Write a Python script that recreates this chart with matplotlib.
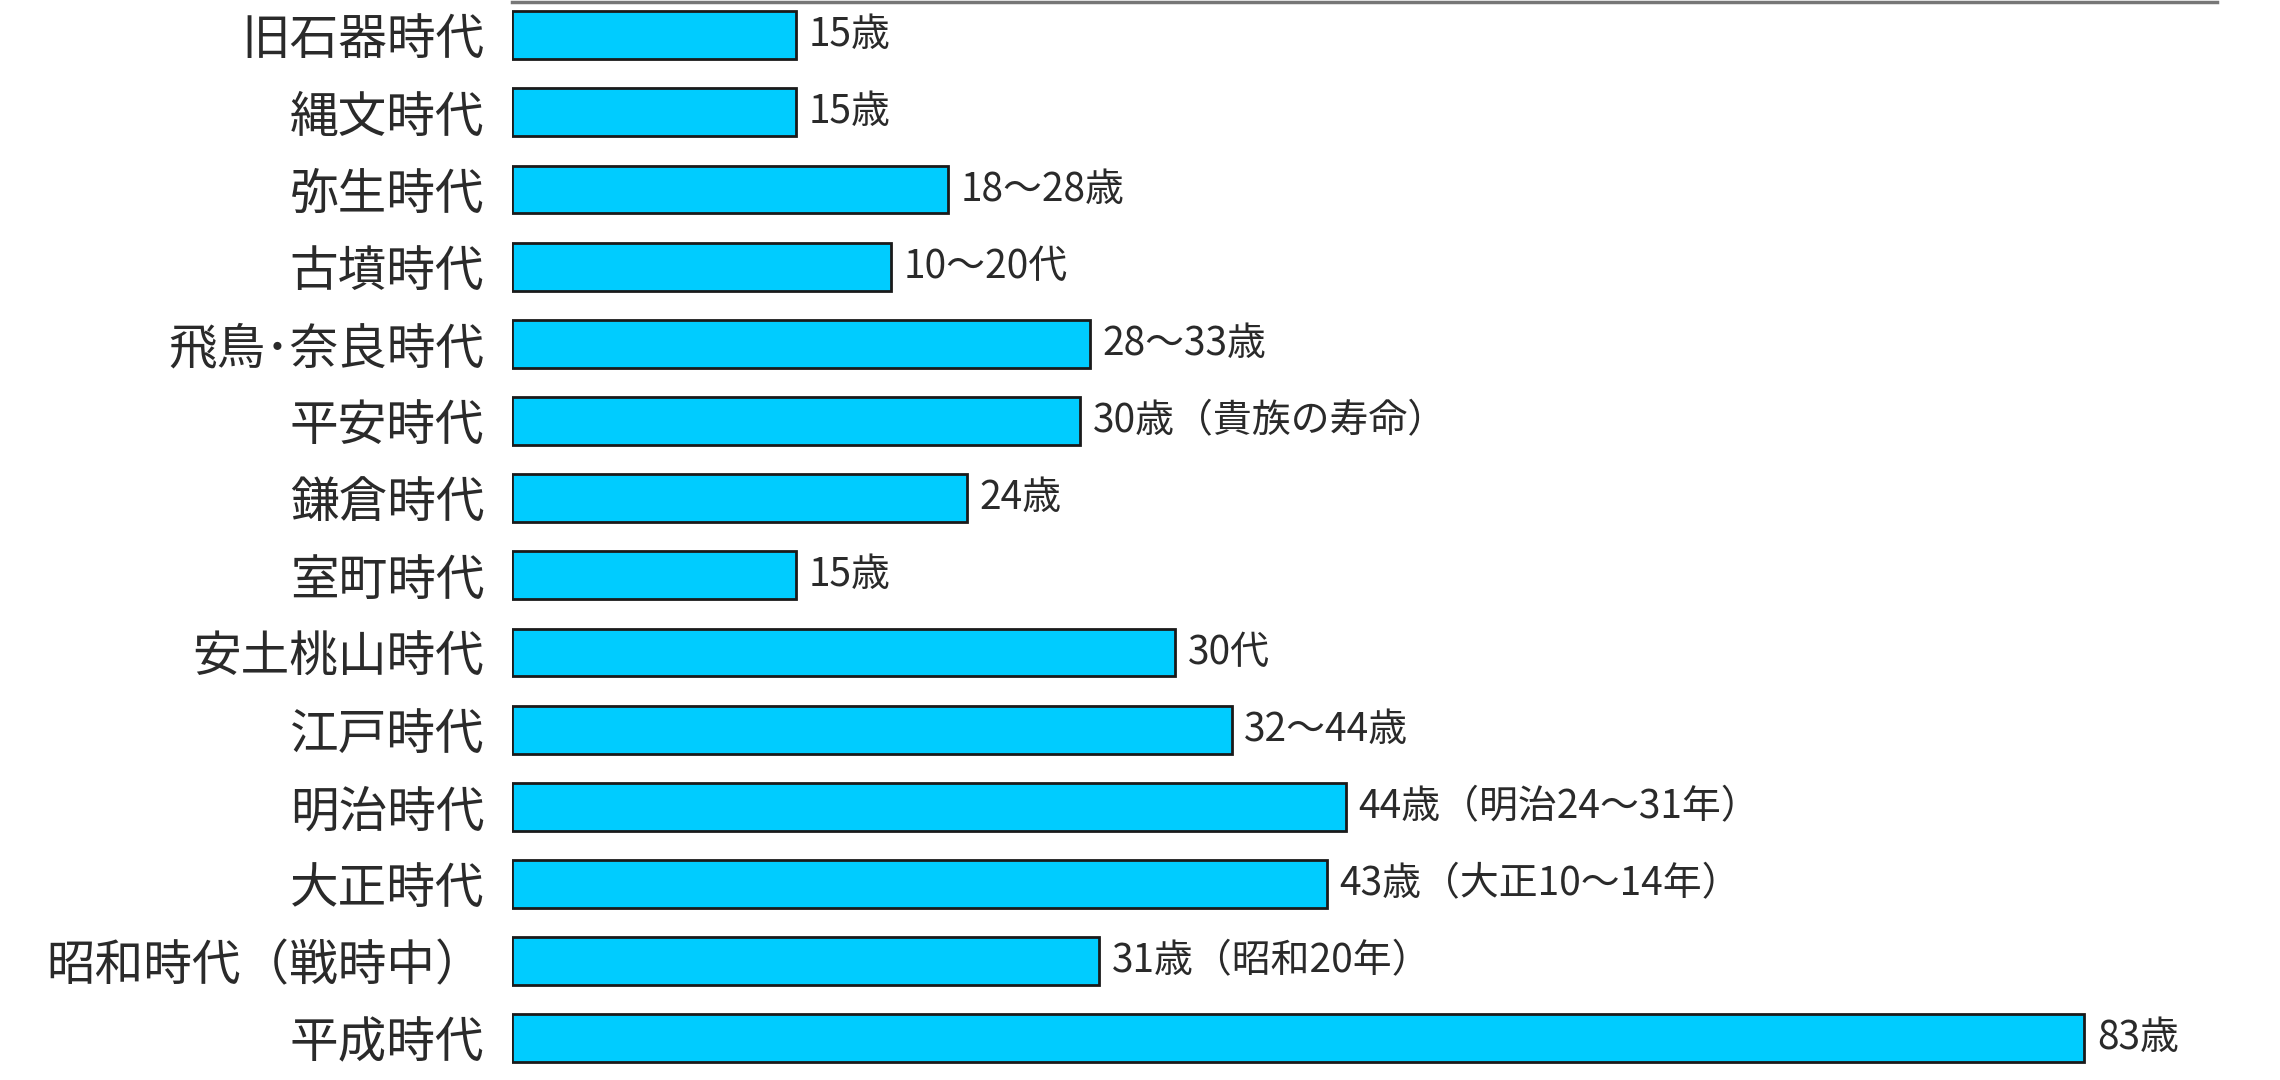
import matplotlib
matplotlib.use("Agg")
import matplotlib.pyplot as plt

plt.rcParams['font.family'] = ['Noto Sans CJK JP', 'DejaVu Sans']

# 時代ごとの平均寿命
periods = [ "旧石器時代", "縄文時代", "弥生時代", "古墳時代", "飛鳥･奈良時代",
            "平安時代", "鎌倉時代", "室町時代", "安土桃山時代", "江戸時代",
            "明治時代", "大正時代", "昭和時代（戦時中）", "平成時代" ]
lifespan = [ 15, 15, 23, 20, 30.5, 30, 24, 15, 35, 38, 44, 43, 31, 83 ]
value_labels = [ "15歳", "15歳", "18〜28歳", "10〜20代", "28〜33歳",
                 "30歳（貴族の寿命）", "24歳", "15歳", "30代", "32〜44歳",
                 "44歳（明治24〜31年）", "43歳（大正10〜14年）", "31歳（昭和20年）", "83歳" ]

fig = plt.figure( figsize=(22.8, 10.8), dpi=100 )
ax = fig.add_axes( [ 512/2280, 0.0, (2217-512)/2280, 1 - 2/1080 ] )

y = list( range( len(periods) ) )
bars = ax.barh( y, lifespan, height=0.62, color='#00CCFF',
                edgecolor='#1a1a1a', linewidth=2.0 )
ax.bar_label( bars, labels=value_labels, padding=9, fontsize=28, color='#2a2a2a' )

ax.set_xlim( 0, 90 )
ax.set_ylim( 13.54, -0.43 )
ax.set_yticks( y )
ax.set_yticklabels( periods, fontsize=35, color='#2a2a2a' )
ax.tick_params( axis='y', length=0, pad=20 )
ax.set_xticks( [] )

for side in [ 'left', 'right', 'bottom' ]:
    ax.spines[side].set_visible( False )
ax.spines['top'].set_color( '#777777' )
ax.spines['top'].set_linewidth( 2.5 )

fig.savefig( "out.png", dpi=100 )
